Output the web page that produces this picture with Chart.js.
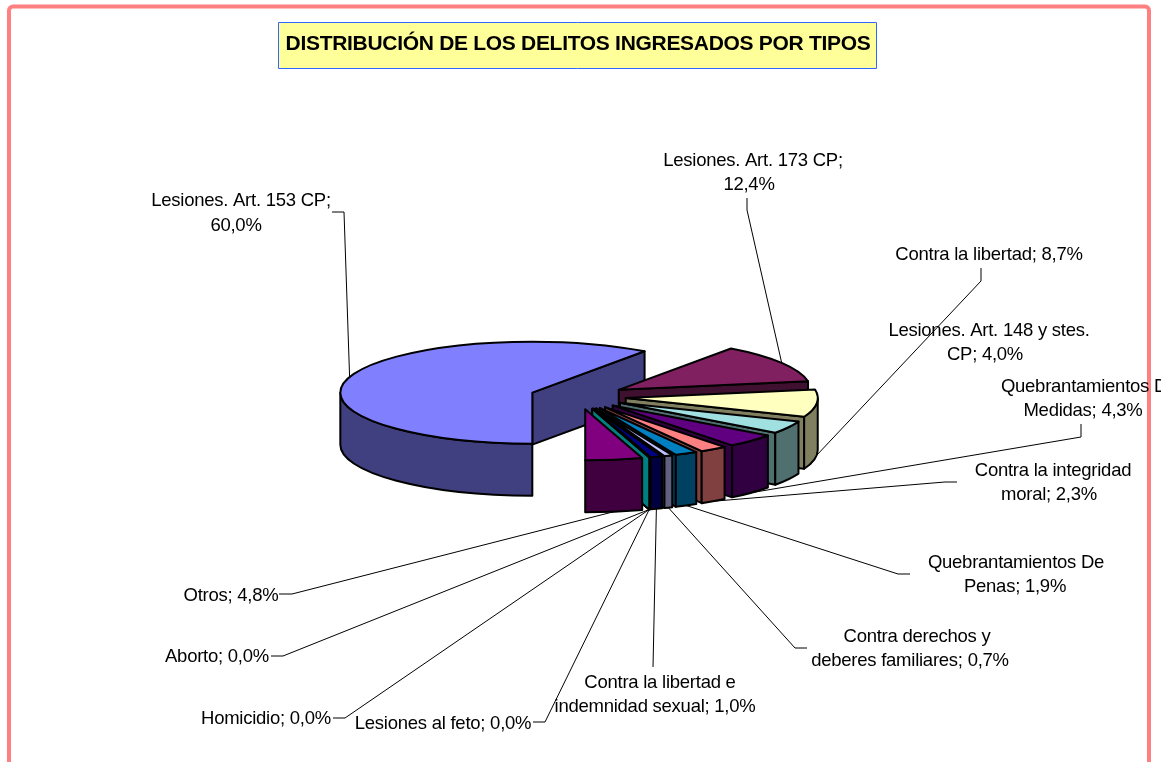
<!DOCTYPE html>
<html>
<head>
<meta charset="utf-8">
<style>html,body{margin:0;padding:0;background:#fff;overflow:hidden}canvas{display:block}</style>
<script src="https://cdn.jsdelivr.net/npm/chart.js@4"></script>
</head>
<body>
<canvas id="c" width="1164" height="762"></canvas>
<script>
const titleText = 'DISTRIBUCIÓN DE LOS DELITOS INGRESADOS POR TIPOS';
const categories = ['Lesiones. Art. 153 CP','Lesiones. Art. 173 CP','Contra la libertad','Lesiones. Art. 148 y stes. CP','Quebrantamientos De Medidas','Contra la integridad moral','Quebrantamientos De Penas','Contra derechos y deberes familiares','Contra la libertad e indemnidad sexual','Lesiones al feto','Homicidio','Aborto','Otros'];
const percentages = [60.0,12.4,8.7,4.0,4.3,2.3,1.9,0.7,1.0,0.0,0.0,0.0,4.8];
const sliceColors = ['#8080FF','#802060','#FFFFC0','#A0E0E0','#600080','#FF8080','#0080C0','#C0C0FF','#000080','#FF00FF','#FFFF00','#00FFFF','#800080'];
// number of words on the first line of each label (0 = single line)
const firstLineWords = [4,4,0,5,2,3,2,3,4,0,0,0,0];
// label line anchors: [centre x, baseline y] per line
const labelAnchors = [
  [[241,206],[236,231]],[[753,166],[749,190]],[[989,260]],[[989,336],[985,360]],
  [[1089,392],[1083,416]],[[1053,476],[1049,500]],[[1016,568],[1015,592]],
  [[917,642],[910,666]],[[660,688],[655,712]],[[443,729]],[[266,724]],[[217,662]],[[231,601]]
];
// leader routes: knee then end (slice end is computed from the arc)
const leaderRoutes = [
  [[344,212],[332,212]],[[747,210],[747,198]],[[981,281],[981,268]],null,
  [[1081,437],[1081,424]],[[945,482],[957,482]],[[898,574],[910,574]],
  [[795,648],[807,648]],[[653,667]],[[545,722],[533,722]],[[345,718],[333,718]],
  [[283,656],[271,656]],[[292,594],[279,594]]
];
const FONT = '"Liberation Sans", Arial, sans-serif';
const pie3d = {
  radius: 192, squash: 51/192, depth: 52, explode: 48
};
function halfColor(hex){
  const n = parseInt(hex.slice(1),16);
  const f = v => Math.round(v/2);
  return `rgb(${f(n>>16&255)},${f(n>>8&255)},${f(n&255)})`;
}
function wrapLabel(i){
  const text = `${categories[i]}; ${percentages[i].toFixed(1).replace('.',',')}%`;
  const n = firstLineWords[i];
  if(!n) return [text];
  const w = text.split(' ');
  return [w.slice(0,n).join(' '), w.slice(n).join(' ')];
}
function geom(arc){
  const p = arc.getProps(['x','y','startAngle','endAngle','outerRadius'], true);
  const mid = (p.startAngle+p.endAngle)/2, k = pie3d.squash;
  const ox = p.x + Math.cos(mid)*pie3d.explode;
  const oy = p.y + Math.sin(mid)*pie3d.explode*k;
  return {ox,oy,mid,s:p.startAngle,e:p.endAngle,R:p.outerRadius,ry:p.outerRadius*k,cx:p.x,cy:p.y};
}
function wallRadial(ctx,g,ang,color){
  const d = pie3d.depth;
  const px = g.ox+Math.cos(ang)*g.R, py = g.oy+Math.sin(ang)*g.ry;
  ctx.beginPath();
  ctx.moveTo(g.ox,g.oy);ctx.lineTo(px,py);ctx.lineTo(px,py+d);ctx.lineTo(g.ox,g.oy+d);ctx.closePath();
  ctx.fillStyle=color;ctx.fill();ctx.stroke();
}
function wallOuter(ctx,g,a,b,color){
  const d = pie3d.depth;
  ctx.beginPath();
  ctx.ellipse(g.ox,g.oy,g.R,g.ry,0,a,b);
  ctx.ellipse(g.ox,g.oy+d,g.R,g.ry,0,b,a,true);
  ctx.closePath();
  ctx.fillStyle=color;ctx.fill();ctx.stroke();
}
const extrudedPie = {
  id:'extrudedPie',
  beforeDraw(chart){
    const ctx=chart.ctx;
    ctx.save();
    ctx.fillStyle='#fff';ctx.fillRect(0,0,chart.width,chart.height);
    ctx.strokeStyle='#FF8080';ctx.lineWidth=4;
    ctx.beginPath();ctx.roundRect(9,6.5,1140,790,4);ctx.stroke();
    ctx.fillStyle='#FFFF99';ctx.strokeStyle='#3366FF';ctx.lineWidth=1;
    ctx.beginPath();ctx.rect(278.5,22.5,598,46);ctx.fill();ctx.stroke();
    ctx.restore();
    ctx.letterSpacing='-0.3px';
  },
  beforeDatasetDraw(chart,args){
    const ctx=chart.ctx, arcs=args.meta.data;
    ctx.save();
    ctx.strokeStyle='#000';ctx.lineWidth=2;ctx.lineJoin='round';
    arcs.forEach((arc,i)=>{
      const g=geom(arc), side=halfColor(sliceColors[i]), eps=1e-6;
      if(Math.cos(g.s)<-eps) wallRadial(ctx,g,g.s,side);
      if(Math.cos(g.e)>eps) wallRadial(ctx,g,g.e,side);
      for(let k=-1;k<3;k++){
        const lo=Math.max(g.s,2*Math.PI*k), hi=Math.min(g.e,Math.PI+2*Math.PI*k);
        if(hi>lo) wallOuter(ctx,g,lo,hi,side);
      }
      ctx.save();
      ctx.translate(g.ox,g.oy);ctx.scale(1,pie3d.squash);ctx.translate(-g.cx,-g.cy);
      arc.draw(ctx);
      ctx.restore();
      ctx.beginPath();ctx.moveTo(g.ox,g.oy);
      ctx.ellipse(g.ox,g.oy,g.R,g.ry,0,g.s,g.e);
      ctx.closePath();ctx.stroke();
    });
    ctx.restore();
    return false;
  },
  afterDraw(chart){
    const ctx=chart.ctx, arcs=chart.getDatasetMeta(0).data;
    ctx.save();
    ctx.strokeStyle='#000';ctx.lineWidth=1;
    arcs.forEach((arc,i)=>{
      const route=leaderRoutes[i]; if(!route) return;
      const g=geom(arc);
      const sx=g.ox+Math.cos(g.mid)*g.R;
      let sy=g.oy+Math.sin(g.mid)*g.ry;
      if(Math.sin(g.mid)>0) sy+=pie3d.depth;
      ctx.beginPath();ctx.moveTo(sx,sy);
      route.forEach(p=>ctx.lineTo(p[0],p[1]));
      ctx.stroke();
    });
    ctx.beginPath();ctx.rect(0,0,1161,762);ctx.clip();
    ctx.fillStyle='#000';ctx.font='18.5px '+FONT;ctx.textAlign='center';ctx.textBaseline='alphabetic';
    ctx.letterSpacing='-0.25px';
    categories.forEach((c,i)=>{
      wrapLabel(i).forEach((line,j)=>{
        const a=labelAnchors[i][j];
        ctx.fillText(line,a[0],a[1]);
      });
    });
    ctx.restore();
  }
};
new Chart(document.getElementById('c'),{
  type:'pie',
  data:{labels:categories,datasets:[{data:percentages,backgroundColor:sliceColors,borderWidth:0,hoverOffset:0}]},
  options:{
    responsive:false,animation:false,rotation:180,radius:pie3d.radius,
    layout:{padding:{top:0,left:0,right:8,bottom:26}},
    plugins:{
      legend:{display:false},tooltip:{enabled:false},
      title:{display:true,text:titleText,color:'#000',fullSize:false,align:'center',
        font:{family:FONT,size:21,weight:'bold',lineHeight:1.2},padding:{top:32,bottom:0}}
    }
  },
  plugins:[extrudedPie]
});
</script>
</body>
</html>
